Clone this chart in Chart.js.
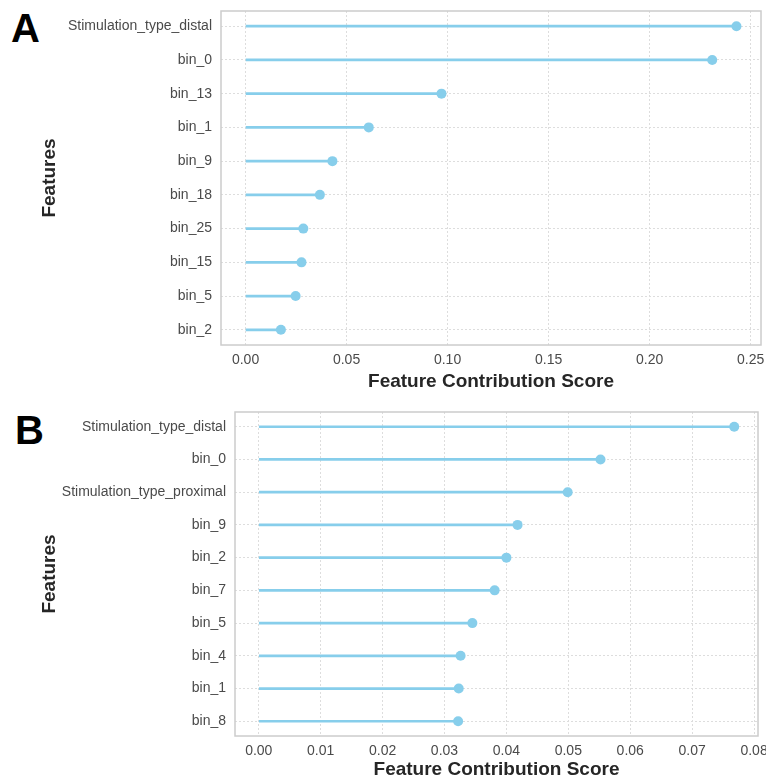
<!DOCTYPE html>
<html>
<head>
<meta charset="utf-8">
<script src="https://cdn.jsdelivr.net/npm/chart.js@4.4.0/dist/chart.umd.min.js"></script>
<style>
  body { margin: 0; background: #fff; width: 766px; height: 780px; overflow: hidden; position: relative; font-family: "Liberation Sans", Arial, sans-serif; }
  .panel { position: absolute; left: 0; }
  .tag { position: absolute; font-weight: bold; font-size: 40px; color: #000; line-height: 1; }
</style>
</head>
<body>
<div class="tag" style="left:11px;top:8px">A</div>
<div class="tag" style="left:15px;top:410px">B</div>
<div class="panel" style="top:0"><canvas id="chartA" width="766" height="392"></canvas></div>
<div class="panel" style="top:392px"><canvas id="chartB" width="766" height="388"></canvas></div>
<script>
// panel A
var featuresA = ['Stimulation_type_distal', 'bin_0', 'bin_13', 'bin_1', 'bin_9', 'bin_18', 'bin_25', 'bin_15', 'bin_5', 'bin_2']
var scoresA = [0.243, 0.231, 0.097, 0.061, 0.043, 0.0368, 0.0286, 0.0277, 0.0248, 0.0175]
var ticksA = [0, 0.05, 0.10, 0.15, 0.20, 0.25]

// panel B
var featuresB = ['Stimulation_type_distal', 'bin_0', 'Stimulation_type_proximal', 'bin_9', 'bin_2', 'bin_7', 'bin_5', 'bin_4', 'bin_1', 'bin_8']
var scoresB = [0.0768, 0.0552, 0.0499, 0.0418, 0.0400, 0.0381, 0.0345, 0.0326, 0.0323, 0.0322]
var ticksB = [0, 0.01, 0.02, 0.03, 0.04, 0.05, 0.06, 0.07, 0.08]

var font = "'Liberation Sans', Arial, sans-serif"
var sky = '#87CEEB'

var framePlugin = {
  id: 'frame',
  beforeDatasetsDraw: function(chart) {
    var a = chart.chartArea, ctx = chart.ctx
    ctx.save()
    ctx.strokeStyle = '#cccccc'
    ctx.lineWidth = 1.5
    ctx.strokeRect(a.left, a.top, a.right - a.left, a.bottom - a.top)
    ctx.restore()
  }
}

function lollipop(id, features, scores, xticks, box) {
  var pts = features.map(function(f, i) { return { x: scores[i], y: i } })
  var maxV = Math.max.apply(null, scores)
  return new Chart(document.getElementById(id), {
    type: 'bar',
    data: {
      datasets: [
        {
          type: 'line',
          data: pts,
          showLine: false,
          pointRadius: 5,
          pointHoverRadius: 5,
          pointBackgroundColor: sky,
          pointBorderColor: sky,
          pointBorderWidth: 0,
          order: 0
        },
        {
          type: 'bar',
          data: pts,
          backgroundColor: sky,
          barThickness: 2,
          order: 1
        }
      ]
    },
    options: {
      indexAxis: 'y',
      responsive: false,
      animation: false,
      layout: { padding: { top: box.top, right: box.right, left: 0, bottom: 0 } },
      plugins: { legend: { display: false }, tooltip: { enabled: false } },
      scales: {
        x: {
          type: 'linear',
          min: -0.05 * maxV,
          max: 1.05 * maxV,
          offset: false,
          afterBuildTicks: function(s) { s.ticks = xticks.map(function(v) { return { value: v } }) },
          afterFit: function(s) { s.height = box.xh; s.paddingLeft = 0; s.paddingRight = 0 },
          grid: { color: '#dddddd', drawTicks: false, offset: false },
          border: { display: false, dash: [2, 2] },
          ticks: {
            padding: 7,
            color: '#4a4a4a',
            font: { family: font, size: 14 },
            maxRotation: 0,
            callback: function(v) { return v.toFixed(2) }
          },
          title: {
            display: true,
            text: 'Feature Contribution Score',
            color: '#262626',
            font: { family: font, size: 19, weight: 'bold', lineHeight: 1 },
            padding: { top: 0, bottom: 1 }
          }
        },
        y: {
          type: 'linear',
          reverse: true,
          min: -0.45,
          max: features.length - 0.55,
          offset: false,
          afterBuildTicks: function(s) { s.ticks = features.map(function(f, i) { return { value: i } }) },
          afterFit: function(s) { s.width = box.yw; s.paddingTop = 0; s.paddingBottom = 0 },
          grid: { color: '#dddddd', drawTicks: false, offset: false },
          border: { display: false, dash: [2, 2] },
          ticks: {
            padding: 9,
            color: '#4a4a4a',
            font: { family: font, size: 14 },
            callback: function(v) { return features[v] }
          },
          title: {
            display: true,
            text: 'Features',
            color: '#262626',
            font: { family: font, size: 19, weight: 'bold', lineHeight: 1 },
            padding: { top: 40, bottom: 0 }
          }
        }
      }
    },
    plugins: [framePlugin]
  })
}

lollipop('chartA', featuresA, scoresA, ticksA, { top: 11, right: 4, xh: 47, yw: 221 })
lollipop('chartB', featuresB, scoresB, ticksB, { top: 20, right: 8, xh: 44, yw: 235 })
</script>
</body>
</html>
